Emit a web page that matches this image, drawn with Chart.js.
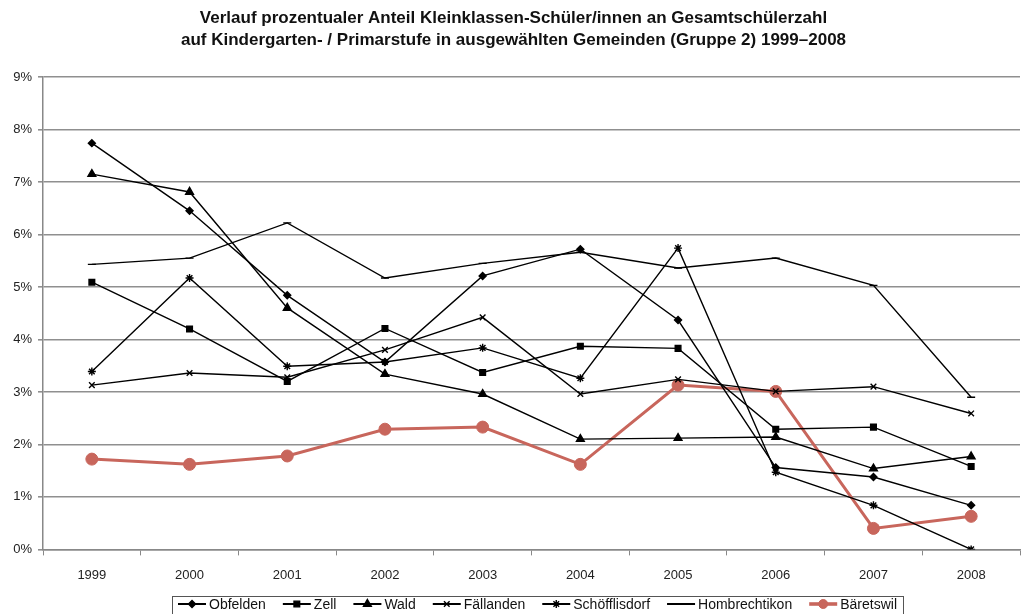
<!DOCTYPE html>
<html>
<head>
<meta charset="utf-8">
<script src="https://cdn.jsdelivr.net/npm/chart.js@4/dist/chart.umd.min.js"></script>
<style>
  html, body { margin: 0; padding: 0; background: #fff; }
  #wrap { width: 1027px; height: 614px; }
</style>
</head>
<body>
<div id="wrap"><canvas id="myChart" width="1027" height="614"></canvas></div>
<script>
// values, in percent
var years = ['1999','2000','2001','2002','2003','2004','2005','2006','2007','2008'];
var obfelden      = [7.74, 6.45, 4.84, 3.57, 5.21, 5.72, 4.37, 1.56, 1.38, 0.84];
var zell          = [5.09, 4.20, 3.20, 4.21, 3.37, 3.87, 3.83, 2.29, 2.33, 1.58];
var wald          = [7.15, 6.81, 4.60, 3.34, 2.96, 2.10, 2.12, 2.14, 1.54, 1.77];
var faellanden    = [3.13, 3.36, 3.28, 3.80, 4.42, 2.96, 3.24, 3.01, 3.10, 2.59];
var schoefflisdorf = [3.39, 5.17, 3.49, 3.57, 3.84, 3.26, 5.74, 1.47, 0.84, 0.00];
var hombrechtikon = [5.43, 5.55, 6.22, 5.17, 5.45, 5.66, 5.36, 5.55, 5.03, 2.90];
var baeretswil    = [1.72, 1.62, 1.78, 2.29, 2.33, 1.62, 3.13, 3.01, 0.40, 0.63];
var yTicks = [0,1,2,3,4,5,6,7,8,9];

var FONT = "'Liberation Sans', Arial, sans-serif";

function blackSeries(label, data, style, radius){
    return {
        label: label,
        data: data,
        borderColor: '#000',
        backgroundColor: '#000',
        borderWidth: 1.4,
        pointStyle: style,
        pointRadius: radius,
        pointBorderWidth: 1.4,
        pointBackgroundColor: '#000',
        pointBorderColor: '#000',
        tension: 0
    };
}

// own legend at the bottom: line + marker + name, framed
var bottomLegend = {
    id: 'bottomLegend',
    afterDraw: function(chart){
        var ctx = chart.ctx;
        var sets = chart.data.datasets;
        var lineW = 28, gap = 3, space = 17, cy = 604;
        ctx.save();
        ctx.font = '14px ' + FONT;
        var widths = sets.map(function(ds){ return lineW + gap + ctx.measureText(ds.label).width; });
        var total = widths.reduce(function(a, b){ return a + b; }, 0) + space * (sets.length - 1);
        var area = chart.chartArea;
        var x = (area.left + area.right) / 2 + 6 - total / 2;
        ctx.strokeStyle = '#555';
        ctx.lineWidth = 1;
        ctx.strokeRect(Math.round(x - 6) + 0.5, 596.5, Math.round(total + 12), 30);
        sets.forEach(function(ds, i){
            ctx.strokeStyle = ds.borderColor;
            ctx.lineWidth = ds.borderWidth + 0.6;
            ctx.beginPath();
            ctx.moveTo(x, cy);
            ctx.lineTo(x + lineW, cy);
            ctx.stroke();
            ctx.fillStyle = ds.pointBackgroundColor;
            ctx.strokeStyle = ds.pointBorderColor;
            ctx.lineWidth = ds.pointBorderWidth;
            var r = ds.pointStyle === 'circle' ? 4.5 : Math.max(ds.pointRadius, 3.5);
            Chart.helpers.drawPoint(ctx, {pointStyle: ds.pointStyle, radius: r, borderWidth: ds.pointBorderWidth, rotation: 0}, x + lineW / 2, cy);
            ctx.fillStyle = '#111';
            ctx.textBaseline = 'middle';
            ctx.textAlign = 'left';
            ctx.fillText(ds.label, x + lineW + gap, cy + 1);
            x += widths[i] + space;
        });
        ctx.restore();
    }
};

var ctx = document.getElementById('myChart').getContext('2d');
var myLineChart = new Chart(ctx, {
    type: 'line',
    data: {
        labels: years,
        datasets: [
            blackSeries('Obfelden', obfelden, 'rectRot', 3.5),
            blackSeries('Zell', zell, 'rect', 4),
            blackSeries('Wald', wald, 'triangle', 4.5),
            blackSeries('Fällanden', faellanden, 'crossRot', 4),
            blackSeries('Schöfflisdorf', schoefflisdorf, 'star', 4),
            blackSeries('Hombrechtikon', hombrechtikon, 'line', 4),
            {
                label: 'Bäretswil',
                data: baeretswil,
                borderColor: '#c8665c',
                backgroundColor: '#c8665c',
                borderWidth: 3,
                pointStyle: 'circle',
                pointRadius: 6,
                pointBorderWidth: 1,
                pointBackgroundColor: '#c8665c',
                pointBorderColor: '#c8665c',
                tension: 0
            }
        ]
    },
    options: {
        responsive: false,
        animation: false,
        layout: { padding: { top: 2, right: 0, left: 0, bottom: 19 } },
        plugins: {
            title: {
                display: true,
                text: ['Verlauf prozentualer Anteil Kleinklassen-Schüler/innen an Gesamtschülerzahl',
                       'auf Kindergarten- / Primarstufe in ausgewählten Gemeinden (Gruppe 2) 1999–2008'],
                color: '#111',
                font: { family: FONT, size: 17, weight: 'bold', lineHeight: 1.294 },
                padding: { top: 5, bottom: 26 }
            },
            legend: { display: false },
            tooltip: { enabled: false }
        },
        scales: {
            x: {
                offset: true,
                grid: { drawOnChartArea: false, drawTicks: true, tickLength: 6, color: '#888', offset: true },
                border: { color: '#888', width: 1.5 },
                ticks: { color: '#222', padding: 12, font: { family: FONT, size: 13 } }
            },
            y: {
                min: 0,
                max: 9,
                afterBuildTicks: function(scale){ scale.ticks = yTicks.map(function(v){ return {value: v}; }); },
                afterFit: function(scale){ scale.width = 43; },
                grid: { color: '#8f8f8f', lineWidth: 1.6, tickLength: 5 },
                border: { color: '#888', width: 1.5 },
                ticks: {
                    color: '#222',
                    padding: 6,
                    font: { family: FONT, size: 13 },
                    callback: function(v){ return v + '%'; }
                }
            }
        }
    },
    plugins: [bottomLegend]
});
</script>
</body>
</html>
